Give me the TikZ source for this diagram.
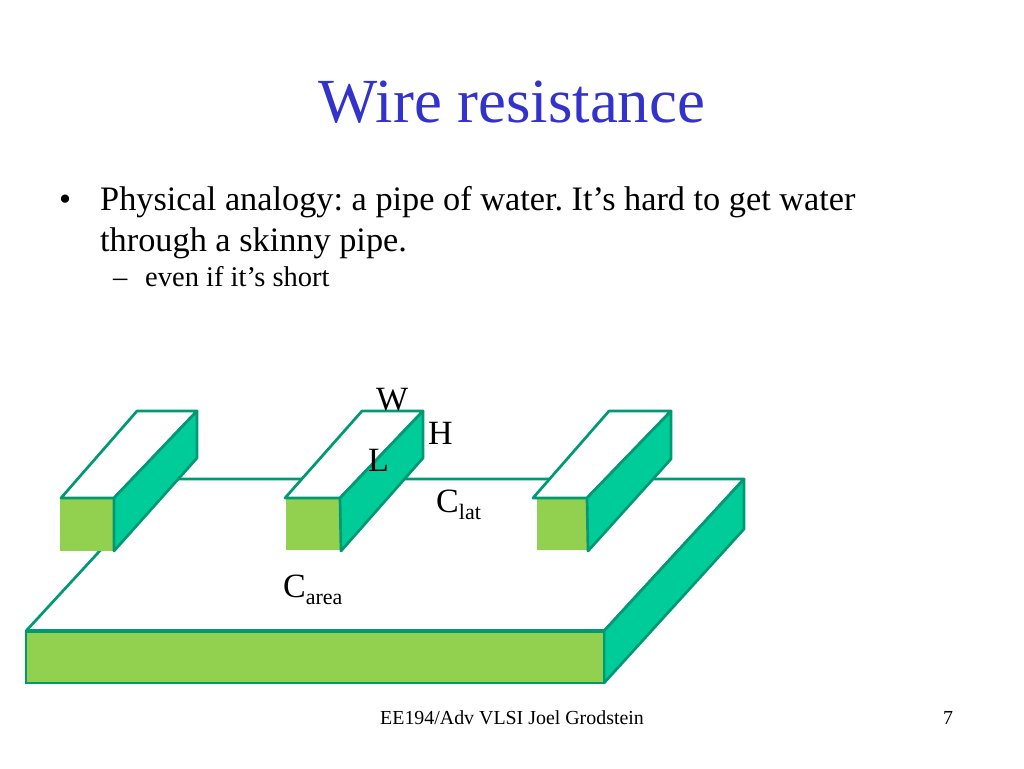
\documentclass[tikz,border=0pt]{standalone}
\usepackage{fontspec}
\setmainfont{Liberation Serif}
\frenchspacing
\definecolor{edgegreen}{HTML}{009973}
\definecolor{sidegreen}{HTML}{00CC99}
\definecolor{frontgreen}{HTML}{92D050}
\definecolor{titleblue}{HTML}{3333CC}
\newcommand{\sized}[1]{\fontsize{#1}{#1}\selectfont}
\newcommand{\lowtext}[1]{{\sized{22}\raisebox{-7.5pt}{#1}}}
\begin{document}
\begin{tikzpicture} [x=1pt, y=-1pt,
                every node/.style={inner sep=0pt, anchor=base west},
                top_style/.style={draw=edgegreen, fill=white, line width=2.7pt, line join=round},
                side_style/.style={draw=edgegreen, fill=sidegreen, line width=2.7pt, line join=round},
                front_style/.style={fill=frontgreen},
                front_edge/.style={draw=edgegreen, fill=frontgreen, line width=2.7pt},
                dim_label/.style={font=\sized{34}},
                body_text/.style={font=\sized{34.3}},
                sub_text/.style={font=\sized{28.5}},
                foot_text/.style={font=\sized{19.9}}]
                \useasboundingbox (0,0) rectangle (1024,768);
                % base plate
                \draw[top_style] (26,631) -- (604,631) -- (744,479) -- (166,479) -- cycle;
                \draw[side_style] (604,631) -- (744,479) -- (744,529) -- (604,683) -- cycle;
                \draw[front_edge] (26,631) rectangle (604,683);
                \draw[edgegreen, line width=4pt] (26,631) -- (604,631);
                % left wire
                \fill[front_style] (60,498) rectangle (114,551);
                \draw[top_style] (61,498) -- (114,498) -- (197,411) -- (137,411) -- cycle;
                \draw[side_style] (114,498) -- (197,411) -- (197,458) -- (114,551) -- cycle;
                % middle wire
                \fill[front_style] (286,498) rectangle (340,550);
                \draw[top_style] (285,498) -- (340,498) -- (423,411) -- (362,411) -- cycle;
                \draw[side_style] (340,498) -- (423,411) -- (423,458) -- (341,551) -- cycle;
                % right wire
                \fill[front_style] (537,498) rectangle (587,550);
                \draw[top_style] (533,498) -- (587,498) -- (671,411) -- (609,411) -- cycle;
                \draw[side_style] (587,498) -- (671,411) -- (671,459) -- (588,551) -- cycle;
                % text
                \node[font=\sized{62.8}, text=titleblue, anchor=base] (title) at (512,122) {Wire resistance};
                \node[body_text] (bullet) at (59,210) {•};
                \node[body_text] (line_a) at (100,210) {Physical analogy: a pipe of water. It’s hard to get water};
                \node[body_text] (line_b) at (100,251) {through a skinny pipe.};
                \node[sub_text] (dash) at (113,286) {–};
                \node[sub_text] (line_c) at (145,286) {even if it’s short};
                \node[dim_label] (w_label) at (376,410) {W};
                \node[dim_label] (h_label) at (428,444) {H};
                \node[dim_label] (l_label) at (368,471) {L};
                \node[dim_label] (clat) at (436,512) {C\lowtext{lat}};
                \node[dim_label] (carea) at (283,597) {C\lowtext{area}};
                \node[foot_text] (footer) at (380,724) {EE194/Adv VLSI Joel Grodstein};
                \node[foot_text] (page) at (943,724) {7};
            \end{tikzpicture}
\end{document}
